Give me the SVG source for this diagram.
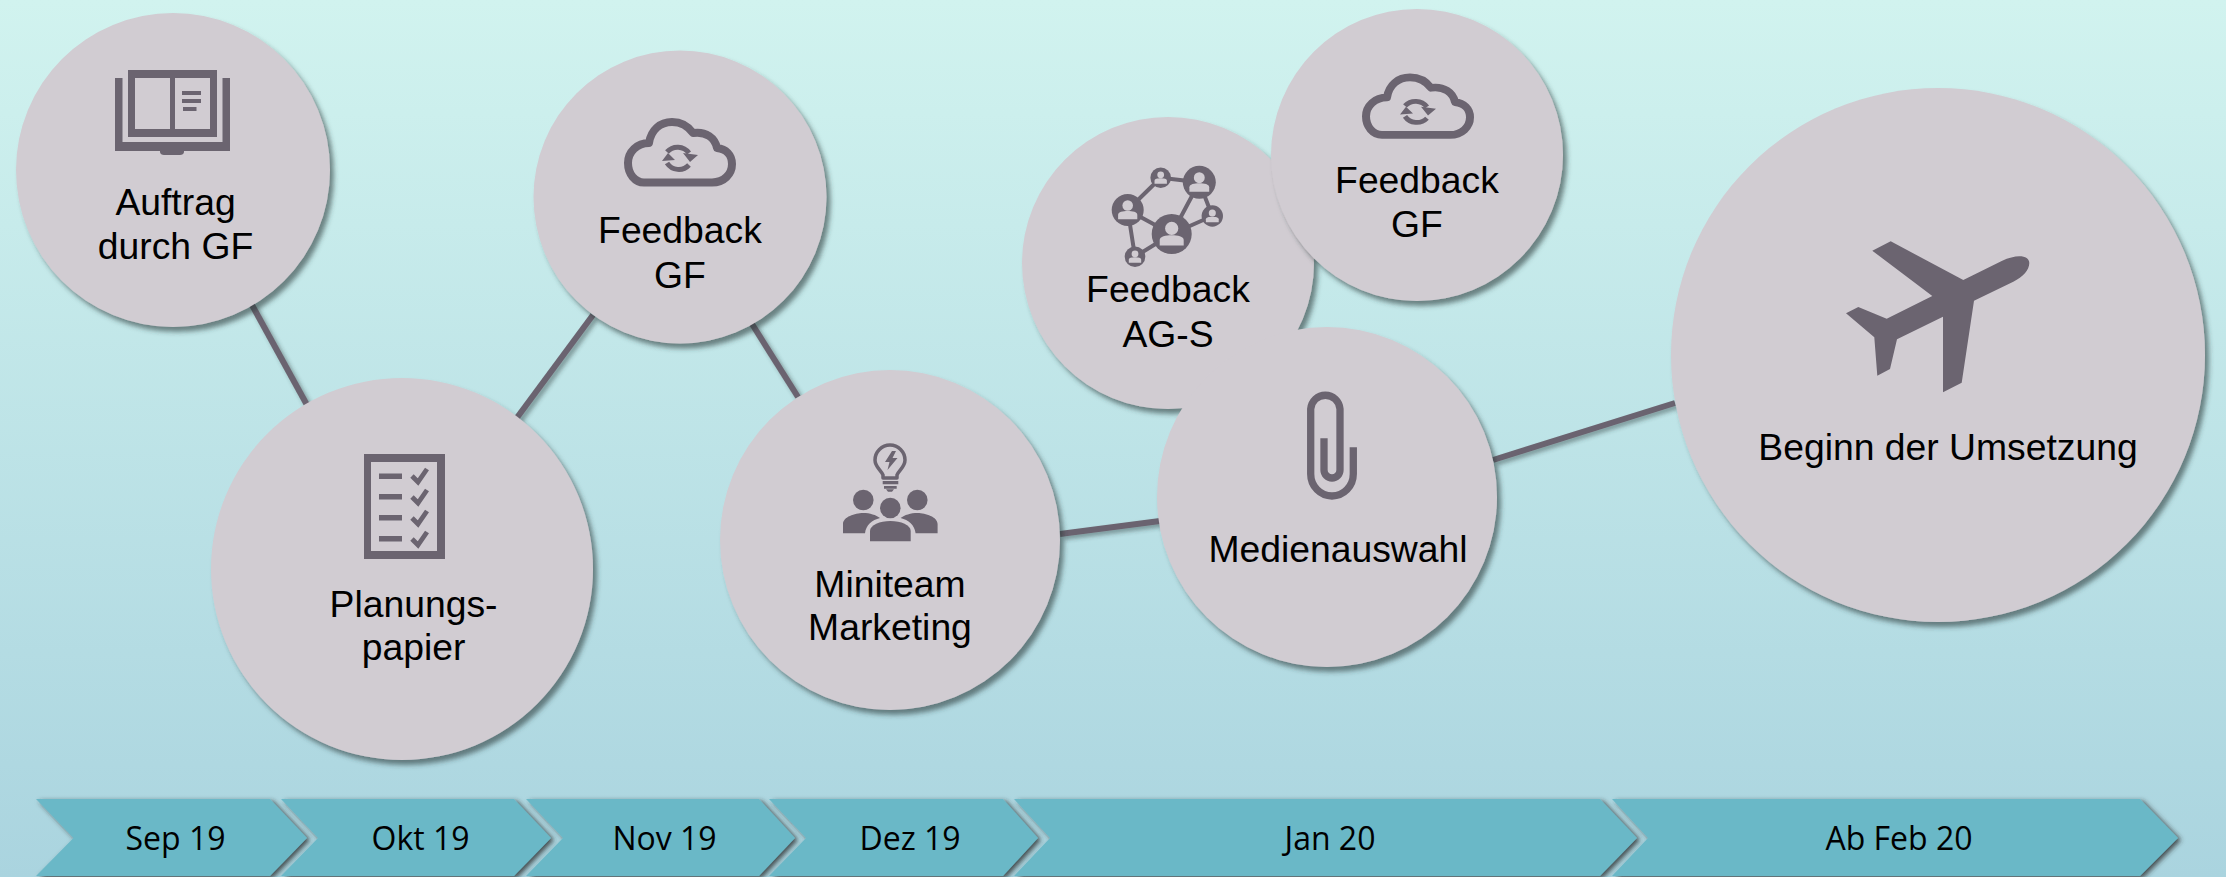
<svg xmlns="http://www.w3.org/2000/svg" xmlns:xlink="http://www.w3.org/1999/xlink" width="2226" height="877" viewBox="0 0 2226 877">
<style>
.c{fill:#d1ccd2;filter:url(#sh)}
.t{font-family:"Liberation Sans",Arial,sans-serif;font-size:37.3px;fill:#000;text-anchor:middle}
.m{font-family:"Open Sans","Noto Sans",sans-serif;font-size:32px;fill:#000;text-anchor:middle}
.i{fill:#6b6470}
.o{fill:none;stroke:#6b6470}
.l{fill:#d1ccd2}
.a{fill:#6bb8c7;filter:url(#sa)}
.e{stroke:#6b6470;stroke-width:6}
</style>
<defs>
<linearGradient id="bg" x1="0" y1="0" x2="0" y2="1"><stop offset="0" stop-color="#d1f3ef"/><stop offset="1" stop-color="#aad4df"/></linearGradient>
<filter id="sh" x="-10%" y="-10%" width="125%" height="125%"><feDropShadow dx="4" dy="5" stdDeviation="2.500" flood-color="#2c3a3c" flood-opacity=".6"/></filter>
<filter id="sc" x="200" y="250" width="1550" height="350" filterUnits="userSpaceOnUse"><feDropShadow dx="3" dy="3" stdDeviation="2" flood-color="#2c3a3c" flood-opacity=".45"/></filter>
<filter id="sa" x="-5%" y="-10%" width="110%" height="125%"><feDropShadow dx="3" dy="2" stdDeviation="2.800" flood-color="#2a2a2a" flood-opacity=".8"/></filter>
<g id="cloud">
<path class="o" stroke-width="8" stroke-linejoin="round" d="M34 82.500H102C114 82.500 122 74 122 64C122 55 116 49 107 48C105 38 96 31 83 33C78 26 70 22 62 22C50 22 41 30 39 43C27 43 18 52 18 63C18 74 25 82.500 34 82.500Z"/>
<path class="o" stroke-width="5" d="M57 52A14 14 0 0 1 79 53M79 65A14 14 0 0 1 57 63"/>
<path class="i" d="M73 53L88 55L80 62ZM52 61L65 60L58 53Z"/>
</g>
<g id="p"><circle class="l" cx="0" cy="-.28" r=".33"/><path class="l" d="M-.6 .58V.3C-.6 .12 -.3 .06 0 .06C.3 .06 .6 .12 .6 .3V.58Z"/></g>
</defs>
<rect id="background" width="2226" height="877" fill="url(#bg)"/>
<g id="connectors" filter="url(#sc)">
<line class="e" x1="252" y1="305" x2="307" y2="405"/>
<line class="e" x1="593" y1="315" x2="516" y2="419"/>
<line class="e" x1="752" y1="324" x2="798" y2="397"/>
<line class="e" x1="1060" y1="534" x2="1160" y2="521"/>
<line class="e" x1="1493" y1="460" x2="1675" y2="403"/>
</g>
<g id="node-auftrag">
<circle class="c" cx="173" cy="170" r="157"/>
<path class="i" fill-rule="evenodd" d="M128 70H217V137H128ZM135 78V129H170V78ZM175 78V129H210V78Z"/>
<path class="i" d="M115 78H122.500V142H222.500V78H230V151H184V152C184 154 182 155 180 155H164C162 155 160 154 160 152V151H115Z"/>
<path class="i" d="M182 91H201V95H182ZM182 99H201V103H182ZM183 107H196.500V111H183Z"/>
<text class="t" x="175.500" y="215">Auftrag</text><text class="t" x="175.500" y="259">durch GF</text>
</g>
<g id="node-planung">
<circle class="c" cx="402" cy="569" r="191"/>
<path class="i" fill-rule="evenodd" d="M364 454H445V559H364ZM371 462V551H437V462Z"/>
<path class="i" d="M379 473.500H402V479H379ZM379 494H402V499.500H379ZM379 515H402V520.500H379ZM379 536H402V541.500H379Z"/>
<path class="o" stroke-width="4.800" d="M412 476L418 482L427 469M412 497L418 503L427 490M412 518L418 524L427 511M412 539L418 545L427 532"/>
<text class="t" x="413.500" y="617">Planungs-</text><text class="t" x="413.500" y="660">papier</text>
</g>
<g id="node-feedback-gf-1">
<circle class="c" cx="680" cy="197" r="146.500"/>
<use xlink:href="#cloud" href="#cloud" x="610" y="100"/>
<text class="t" x="680" y="243">Feedback</text><text class="t" x="680" y="288">GF</text>
</g>
<g id="node-miniteam">
<circle class="c" cx="890" cy="540" r="170"/>
<g transform="translate(800 420)">
<path class="o" stroke-width="3.500" stroke-linejoin="round" d="M83 58V55C81 50 75 47 75 40A15 15 0 0 1 105 40C105 47 99 50 97 55V58Z"/>
<path class="i" d="M92 31L85 42H89.500L87.500 50L97.500 38H92.500L96 31Z"/>
<path class="i" d="M82.700 61H98.300V64.300H82.700ZM84 66H96.700V68.700H84ZM86 69.300H94L92 71.700H88Z"/>
<circle class="i" cx="63.300" cy="80" r="10.300"/><circle class="i" cx="117.300" cy="80" r="10.300"/><circle class="i" cx="90.300" cy="88" r="10.300"/>
<path class="i" d="M43 113.300V104C43 97 55 93 63 93C70 93 76 95 80 98C72 100 66 105 65 113.300Z"/>
<path class="i" d="M137.600 113.300V104C137.600 97 125.600 93 117.600 93C110.600 93 104.600 95 100.600 98C108.600 100 114.600 105 115.600 113.300Z"/>
<path class="i" d="M70 121.300V111C70 105 80 101 90.300 101C101 101 110.700 105 110.700 111V121.300Z"/>
</g>
<text class="t" x="890" y="597">Miniteam</text><text class="t" x="890" y="640">Marketing</text>
</g>
<g id="node-feedback-ags">
<circle class="c" cx="1168" cy="263" r="146"/>
<g transform="translate(1090 155)">
<path class="o" stroke-width="4" d="M70.700 22.700L109.300 27.300M70.700 22.700L37.700 55M37.700 55L81.700 79M37.700 55L45 101.700M45 101.700L81.700 79M81.700 79L109.300 27.300M81.700 79L122.300 61M109.300 27.300L122.300 61"/>
<circle class="i" cx="81.700" cy="79" r="20"/><circle class="i" cx="109.300" cy="27.300" r="16.500"/><circle class="i" cx="37.700" cy="55" r="16"/><circle class="i" cx="70.700" cy="22.700" r="10.300"/><circle class="i" cx="122.300" cy="61" r="10.700"/><circle class="i" cx="45" cy="101.700" r="10.300"/>
<use xlink:href="#p" href="#p" transform="translate(81.700 79) scale(20)"/><use xlink:href="#p" href="#p" transform="translate(109.300 27.300) scale(16.500)"/><use xlink:href="#p" href="#p" transform="translate(37.700 55) scale(16)"/><use xlink:href="#p" href="#p" transform="translate(70.700 22.700) scale(10.300)"/><use xlink:href="#p" href="#p" transform="translate(122.300 61) scale(10.700)"/><use xlink:href="#p" href="#p" transform="translate(45 101.700) scale(10.300)"/>
</g>
<text class="t" x="1168" y="302">Feedback</text><text class="t" x="1168" y="347">AG-S</text>
</g>
<g id="node-feedback-gf-2">
<circle class="c" cx="1417" cy="155" r="146"/>
<use xlink:href="#cloud" href="#cloud" transform="translate(1348 56.500) scale(1 .95)"/>
<text class="t" x="1417" y="193">Feedback</text><text class="t" x="1417" y="237">GF</text>
</g>
<g id="node-medien">
<circle class="c" cx="1327" cy="497" r="170"/>
<path class="o" transform="translate(1260 370)" stroke-width="7.300" d="M93.300 77.300V104A21.300 22 0 0 1 50.700 104V39A14.700 15 0 0 1 80 39V100A8 8 0 0 1 64 100V68.300"/>
<text class="t" x="1338" y="562">Medienauswahl</text>
</g>
<g id="node-umsetzung">
<circle class="c" cx="1938" cy="355" r="267"/>
<path class="i" d="M1890.700 241.300L1963.300 280L2001.700 261C2018.300 253 2029.300 256 2029.300 263C2029.300 270 2023 277 2013.300 281.700L1974 300.700L1961.700 382.700L1943 392.300V316.700L1897 339.300L1890 369L1877.300 375.700L1874.300 337.300L1846 313.300L1858.300 307L1886.700 318.700L1932.300 296L1872.300 250.700Z"/>
<text class="t" x="1948" y="460">Beginn der Umsetzung</text>
</g>
<g id="timeline">
<g id="step-sep"><path class="a" d="M36 799H270L307 838L270 876H36L73.500 838Z"/><text class="m" x="175.500" y="850">Sep 19</text></g>
<g id="step-okt"><path class="a" d="M281 799H514L551 838L514 876H281L318 838Z"/><text class="m" x="420.500" y="850">Okt 19</text></g>
<g id="step-nov"><path class="a" d="M526 799H759L795 838L759 876H526L563 838Z"/><text class="m" x="664.500" y="850">Nov 19</text></g>
<g id="step-dez"><path class="a" d="M769 799H1003L1038 838L1003 876H769L806 838Z"/><text class="m" x="910" y="850">Dez 19</text></g>
<g id="step-jan"><path class="a" d="M1014 799H1600L1637 838L1600 876H1014L1050 838Z"/><text class="m" x="1330" y="850">Jan 20</text></g>
<g id="step-feb"><path class="a" d="M1612 799H2140L2178 838L2140 876H1612L1648 838Z"/><text class="m" x="1899" y="850">Ab Feb 20</text></g>
</g>
</svg>
